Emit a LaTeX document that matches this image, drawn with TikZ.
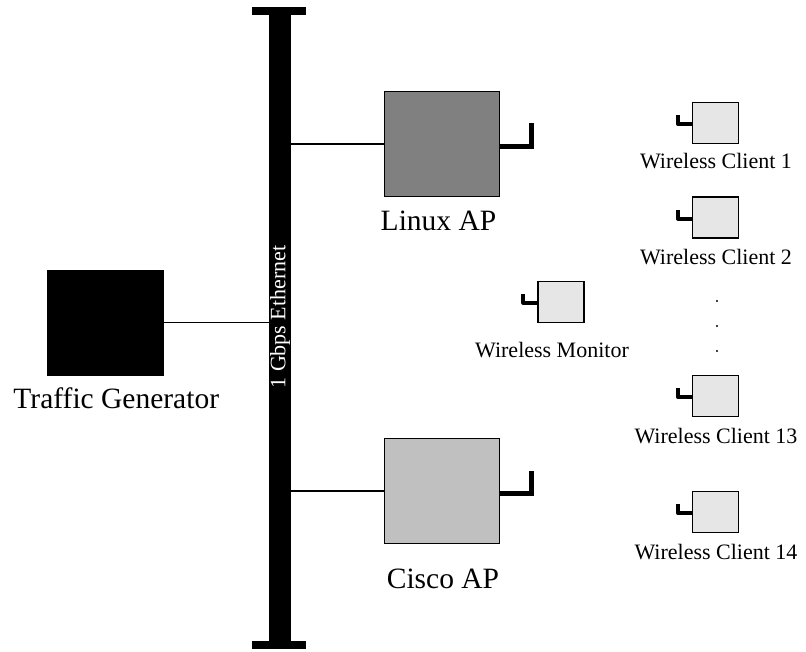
\documentclass[tikz,border=0pt]{standalone}
\usepackage{fontspec}
\setmainfont{Liberation Serif}
\usetikzlibrary{calc}
\definecolor{linuxgray}{HTML}{808080}
\definecolor{ciscogray}{HTML}{C0C0C0}
\definecolor{clientgray}{HTML}{E6E6E6}
\tikzset{
  dev/.style={draw=black, line width=1.2pt, inner sep=0pt, minimum width=115pt, minimum height=105pt},
  cli/.style={draw=black, line width=1.2pt, inner sep=0pt, minimum width=46pt, minimum height=41pt, fill=clientgray},
  bigtxt/.style={inner sep=0pt, anchor=base, font=\fontsize{29.5}{34}\selectfont},
  smalltxt/.style={inner sep=0pt, anchor=base, font=\fontsize{22}{26}\selectfont},
  link/.style={line width=1.2pt},
  apant/.style={line width=5pt},
  clant/.style={line width=4pt, line join=round},
}
\begin{document}
\begin{tikzpicture}[x=1pt,y=-1pt]
\useasboundingbox (0,0) rectangle (806,651);
% bus
\node[fill=black, inner sep=0pt, minimum width=22pt, minimum height=634pt] (bus) at (280,328) {};
\fill (252,7) rectangle (306,15);
\fill (252,641) rectangle (306,649);
\node[rotate=90, text=white, inner sep=0pt, font=\fontsize{22}{26}\selectfont] (buslbl) at (280,317) {1 Gbps Ethernet};
% traffic generator
\node[fill=black, inner sep=0pt, minimum width=117pt, minimum height=106pt] (tg) at (105.7,322.5) {};
\node[bigtxt] (tglbl) at (116.3,408) {Traffic Generator};
\draw[link] (tg.east) -- (tg -| bus.east);
% Linux AP
\node[dev, fill=linuxgray] (linux) at (442,144) {};
\node[bigtxt] (linuxlbl) at (438.5,230) {Linux AP};
\draw[link] (linux -| bus.east) -- (linux.west);
\draw[apant] ($(linux.east)+(0,2)$) -- ++(31,0) -- ++(0,-23);
% Cisco AP
\node[dev, fill=ciscogray] (cisco) at (442,491) {};
\node[bigtxt] (ciscolbl) at (443,588) {Cisco AP};
\draw[link] (cisco -| bus.east) -- (cisco.west);
\draw[apant] ($(cisco.east)+(0,2)$) -- ++(31,0) -- ++(0,-22);
% clients
\node[cli] (c1) at (715.5,123) {};
\node[smalltxt] (c1lbl) at (716,168) {Wireless Client 1};
\draw[clant] ($(c1.west)+(0,1)$) -- ++(-14,0) -- ++(0,-9);
\node[cli] (c2) at (715.5,217.5) {};
\node[smalltxt] (c2lbl) at (716,264) {Wireless Client 2};
\draw[clant] ($(c2.west)+(0,1)$) -- ++(-14,0) -- ++(0,-9);
\node[cli] (c13) at (715.5,396) {};
\node[smalltxt] (c13lbl) at (716,443) {Wireless Client 13};
\draw[clant] ($(c13.west)+(0,1)$) -- ++(-14,0) -- ++(0,-9);
\node[cli] (c14) at (715.5,512) {};
\node[smalltxt] (c14lbl) at (716,559) {Wireless Client 14};
\draw[clant] ($(c14.west)+(0,1)$) -- ++(-14,0) -- ++(0,-9);
% monitor
\node[cli] (mon) at (561,301.7) {};
\node[smalltxt] (monlbl) at (552,357) {Wireless Monitor};
\draw[clant] ($(mon.west)+(0,1)$) -- ++(-14,0) -- ++(0,-9);
% dots
\fill (717,301) circle (1.1);
\fill (717,326) circle (1.1);
\fill (717,351) circle (1.1);
\end{tikzpicture}
\end{document}
